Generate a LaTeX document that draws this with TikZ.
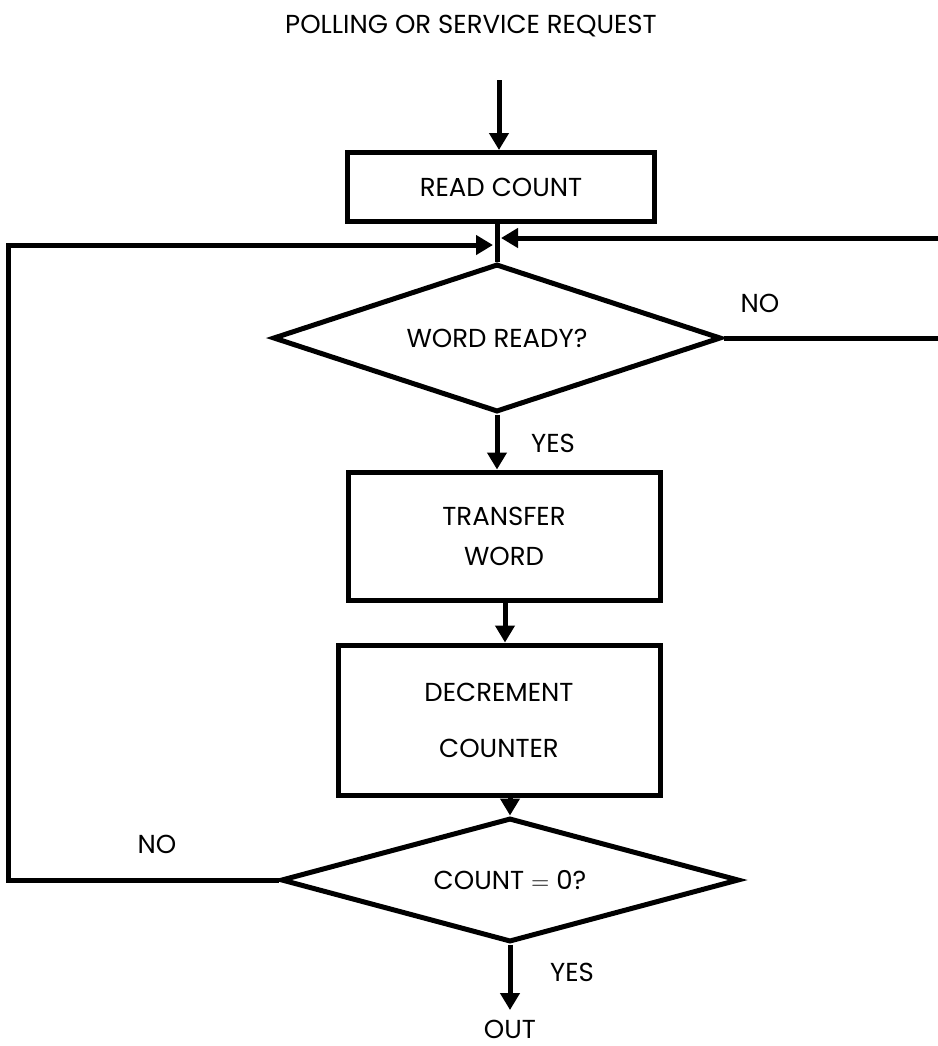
\documentclass[tikz,border=0pt]{standalone}
\usepackage{fontspec}
\setmainfont{Poppins}
\usetikzlibrary{arrows.meta, shapes.geometric, positioning}

\begin{document}
\begin{tikzpicture}[x=0.5pt, y=-0.5pt,
  every node/.style={font=\fontsize{13}{16}\selectfont},
  flowline/.style={line width=2.5pt, line join=miter},
  flowarrow/.style={flowline, -{Triangle[length=8.5pt, width=9.5pt]}},
  procbox/.style={draw, line width=2.5pt, inner sep=0pt, align=center},
  decision/.style={draw, diamond, line width=2.5pt, inner sep=0pt, align=center}]
  \useasboundingbox (0,0) rectangle (938,1046);

  %% title and entry
  \node (title) at (471,26) {POLLING OR SERVICE REQUEST};
  \coordinate (entry) at (499,80);

  %% process boxes
  \node[procbox, minimum width=153.5pt, minimum height=34.5pt] (readcount) at (501,187) {READ COUNT};
  \node[procbox, minimum width=156pt, minimum height=64pt] (transfer) at (504,536) {TRANSFER\\[4pt]WORD};
  \node[procbox, minimum width=161pt, minimum height=75pt] (decrement) at (499,720) {DECREMENT\\[12pt]COUNTER};

  %% decisions
  \node[decision, aspect=3, minimum width=224pt, minimum height=74pt] (wordready) at (497,338) {WORD READY?};
  \node[decision, aspect=3.7, minimum width=229pt, minimum height=62pt] (countzero) at (510,880) {COUNT $=$ 0?};

  %% loop corners
  \coordinate (merge) at (497,242);
  \coordinate (outpt) at (510,1010);

  %% main flow
  \draw[flowarrow] (entry) -- (readcount.north -| entry);
  \draw[flowline] (readcount.south -| merge) -- (wordready.north);
  \draw[flowarrow] (wordready.south) -- (transfer.north -| wordready.south);
  \node (yesword) at (553,443) {YES};
  \draw[flowarrow] (transfer.south -| 505,0) -- (decrement.north -| 505,0);
  \draw[flowarrow] (decrement.south -| countzero.north) -- (countzero.north);
  \draw[flowarrow] (countzero.south) -- (outpt);
  \node (yescount) at (572,972) {YES};
  \node (out) at (510,1029) {OUT};

  %% NO branches (loop back to merge point)
  \draw[flowarrow] (wordready.east) -- (945,338 |- wordready.east) |- ([xshift=2pt,yshift=2pt]merge);
  \node (noright) at (760,303) {NO};
  \draw[flowarrow] (countzero.west) -| (8,245) -- ([xshift=-2pt,yshift=-1.5pt]merge);
  \node (noleft) at (157,844) {NO};
\end{tikzpicture}
\end{document}
